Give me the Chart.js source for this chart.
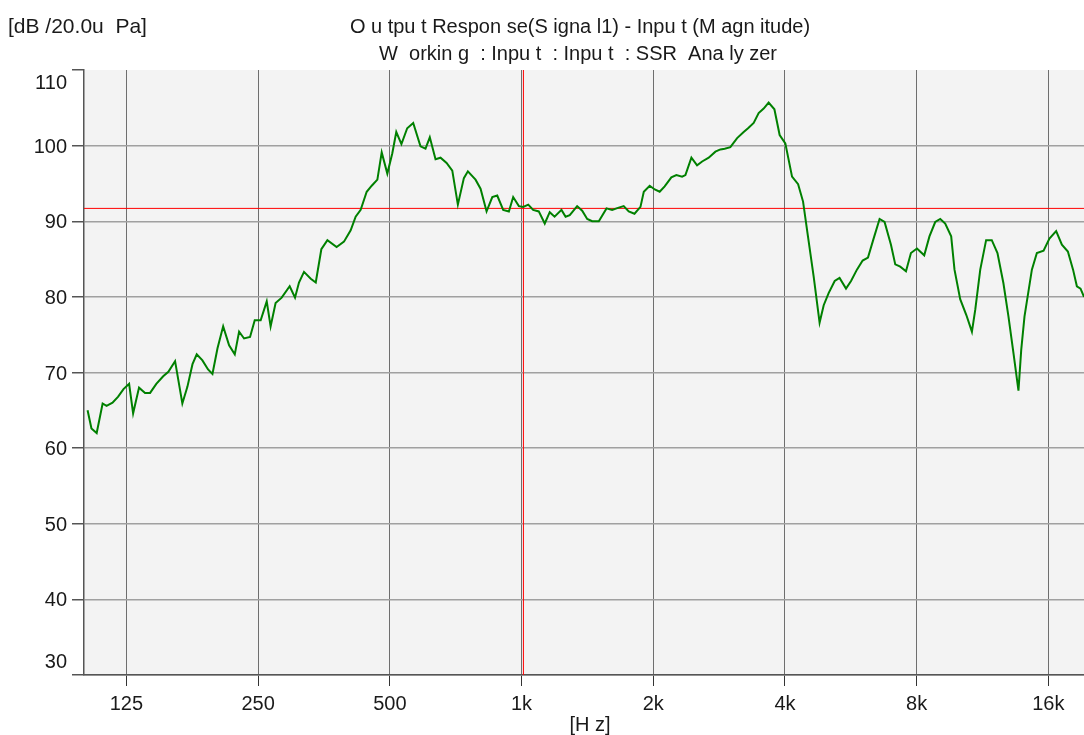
<!DOCTYPE html>
<html>
<head>
<meta charset="utf-8">
<script src="https://cdn.jsdelivr.net/npm/chart.js@4/dist/chart.umd.min.js"></script>
<style>
    html, body { margin: 0; padding: 0; background: #fff; }
</style>
</head>
<body>
<canvas id="chart-response" width="1084" height="735"></canvas>
<script>
var freqHz = [
    101.9, 104.0, 106.9, 110.3, 112.6, 116.2, 119.7, 123.1, 126.8, 129.5,
    133.6, 137.9, 141.6, 146.3, 151.7, 155.9, 161.5, 167.8, 172.3, 177.0,
    181.0, 186.5, 192.1, 196.6, 201.9, 208.0, 214.6, 221.1, 226.2, 232.2,
    239.6, 245.6, 253.4, 261.6, 267.0, 274.1, 283.0, 295.2, 303.6, 310.0,
    318.3, 329.8, 338.6, 348.7, 360.0, 377.9, 392.8,
    406.9, 417.7, 428.9, 442.7, 454.6, 468.3, 479.1, 493.5, 506.6, 517.3,
    531.5, 547.9, 565.5, 587.6, 603.3, 617.1, 636, 652.9, 674.1, 694.6,
    715.3, 738.3, 754, 785, 806, 832, 857.4, 880, 908, 935.6,
    957, 986, 1009, 1036, 1063, 1095, 1130, 1160, 1190, 1234,
    1261, 1289, 1340, 1376, 1413, 1450, 1502, 1564, 1611, 1668,
    1712, 1758, 1812, 1870,
    1903, 1963, 2016, 2069, 2124, 2200, 2259, 2328, 2369, 2445,
    2519, 2587, 2678, 2774, 2848, 2913, 3001, 3110, 3219, 3294,
    3393, 3483, 3576, 3671, 3784, 3890, 4008, 4152, 4287, 4400,
    4515, 4652, 4800, 4905, 5034, 5197, 5332, 5516, 5664, 5842,
    6021, 6192, 6378, 6582, 6757, 6988, 7148, 7338, 7563, 7763,
    8013, 8325, 8557, 8821, 9058, 9297, 9594, 9763, 10060, 10390,
    10700, 10890, 11180, 11530, 11880, 12240, 12630, 12970, 13320, 13670,
    13870, 14110, 14670, 15060, 15600, 16090, 16670, 17180, 17730, 18220,
    18590, 18950, 19300
];
var levelDb = [
    65.0, 62.6, 62.0, 65.9, 65.6, 66.0, 66.8, 67.8, 68.5, 64.6,
    68.0, 67.3, 67.3, 68.5, 69.5, 70.1, 71.5, 65.9, 68.1, 71.1,
    72.4, 71.6, 70.4, 69.8, 73.2, 76.1, 73.6, 72.4, 75.4, 74.5,
    74.7, 76.9, 76.9, 79.4, 76.1, 79.2, 79.9, 81.4, 79.9, 81.9,
    83.3, 82.4, 81.9, 86.3, 87.5, 86.6, 87.3,
    88.8, 90.6, 91.5, 93.9, 94.7, 95.5, 99.1, 96.3, 99.0, 101.8,
    100.2, 102.3, 103.0, 99.9, 99.6, 101.1, 98.2, 98.4, 97.7, 96.7,
    92.2, 95.7, 96.6, 95.5, 94.3, 91.3, 93.2, 93.4, 91.5, 91.3,
    93.2, 92.0, 91.9, 92.2, 91.5, 91.3, 89.7, 91.2, 90.6, 91.5,
    90.6, 90.8, 92.0, 91.4, 90.3, 90.0, 90.0, 91.7, 91.5, 91.8,
    92.0, 91.3, 91.0, 91.9,
    93.9, 94.7, 94.2, 93.9, 94.6, 95.8, 96.1, 95.9, 96.1, 98.4,
    97.4, 97.9, 98.4, 99.2, 99.5, 99.6, 99.8, 101.0, 101.8, 102.3,
    103.0, 104.3, 104.9, 105.7, 104.8, 101.4, 100.3, 95.9, 94.9, 92.6,
    88.0, 82.7, 76.6, 78.9, 80.5, 82.1, 82.5, 81.1, 82.1, 83.6,
    84.8, 85.2, 87.7, 90.3, 89.9, 86.9, 84.3, 84.0, 83.4, 85.8,
    86.4, 85.5, 88.0, 89.9, 90.3, 89.7, 88.0, 83.6, 79.7, 77.6,
    75.4, 78.3, 83.6, 87.5, 87.5, 85.8, 81.8, 77.4, 72.5, 67.6,
    73.0, 77.4, 83.6, 85.8, 86.1, 87.7, 88.7, 86.9, 86.0, 83.6,
    81.4, 81.1, 80.0
];

// Axis ticks
var xTicks = [125, 250, 500, 1000, 2000, 4000, 8000, 16000];
var xTickLabels = ['125', '250', '500', '1k', '2k', '4k', '8k', '16k'];
var yTicks = [30, 40, 50, 60, 70, 80, 90, 100, 110];
var xRange = [100, 19300];
var yRange = [30, 110];

// Cursor lines (red)
var refLevel = 91.7;
var cursorFreq = 1010;

var titleLines = [
    'O u tpu t Respon se(S igna l1) - Inpu t (M agn itude)',
    'W  orkin g  : Inpu t  : Inpu t  : SSR  Ana ly zer'
];
var yUnit = '[dB /20.0u  Pa]';
var xUnit = '[H z]';

var FONT = '"Liberation Sans", Arial, sans-serif';

function hzPoints(xs, ys) {
    return xs.map(function (f, i) { return { x: f, y: ys[i] }; });
}

// Plot background + all the text
var framePlugin = {
    id: 'frame',
    beforeDraw: function (chart) {
        var a = chart.chartArea;
        var ctx = chart.ctx;
        ctx.save();
        ctx.fillStyle = '#f3f3f3';
        ctx.fillRect(a.left, a.top, a.right - a.left, a.bottom - a.top);
        ctx.restore();
    },
    afterDraw: function (chart) {
        var a = chart.chartArea;
        var ctx = chart.ctx;
        var xs = chart.scales.x;
        var ys = chart.scales.y;
        ctx.save();
        ctx.fillStyle = '#1a1a1a';
        ctx.font = '20px ' + FONT;

        // y tick labels (end ones pushed inside like the original)
        ctx.textAlign = 'right';
        yTicks.forEach(function (v) {
            var py = ys.getPixelForValue(v);
            py = Math.min(Math.max(py, a.top + 12), a.bottom - 14);
            ctx.fillText(String(v), 67, py + 7);
        });

        // x tick labels
        ctx.textAlign = 'center';
        xTicks.forEach(function (v, i) {
            ctx.fillText(xTickLabels[i], xs.getPixelForValue(v), 710);
        });
        ctx.fillText(xUnit, 590, 731);

        // title
        ctx.fillText(titleLines[0], 580, 33);
        ctx.fillText(titleLines[1], 578, 60);

        ctx.textAlign = 'left';
        ctx.font = '21px ' + FONT;
        ctx.fillText(yUnit, 8, 33);
        ctx.restore();
    }
};

new Chart(document.getElementById('chart-response'), {
    type: 'line',
    data: {
        datasets: [{
            label: 'Response',
            data: hzPoints(freqHz, levelDb),
            borderColor: '#008000',
            borderWidth: 2,
            pointRadius: 0,
            tension: 0,
            order: 0
        }, {
            label: 'Level cursor',
            data: hzPoints(xRange, [refLevel, refLevel]),
            borderColor: '#ff0000',
            borderWidth: 1,
            pointRadius: 0,
            order: 1
        }, {
            label: 'Frequency cursor',
            data: hzPoints([cursorFreq, cursorFreq], yRange),
            borderColor: '#ff0000',
            borderWidth: 1,
            pointRadius: 0,
            order: 1
        }]
    },
    options: {
        responsive: false,
        animation: false,
        layout: { padding: { left: 72, top: 70, right: 0, bottom: 0 } },
        plugins: {
            legend: { display: false },
            tooltip: { enabled: false },
            title: { display: false }
        },
        scales: {
            x: {
                type: 'logarithmic',
                min: xRange[0],
                max: xRange[1],
                afterBuildTicks: function (scale) {
                    scale.ticks = xTicks.map(function (v) { return { value: v }; });
                },
                afterFit: function (scale) { scale.height = 60; },
                ticks: { display: false },
                grid: {
                    color: '#6e6e6e',
                    lineWidth: 1,
                    drawTicks: true,
                    tickLength: 11,
                    tickColor: '#333'
                },
                border: { color: '#555', width: 1.5 }
            },
            y: {
                min: yRange[0],
                max: yRange[1],
                afterBuildTicks: function (scale) {
                    scale.ticks = yTicks.map(function (v) { return { value: v }; });
                },
                afterFit: function (scale) { scale.width = 12; },
                ticks: { display: false },
                grid: {
                    color: function (c) {
                        return (c.tick && c.tick.value === 110) ? 'rgba(0,0,0,0)' : '#a0a0a0';
                    },
                    lineWidth: 1.5,
                    drawTicks: true,
                    tickLength: 12,
                    tickColor: '#555'
                },
                border: { color: '#555', width: 1.5 }
            }
        }
    },
    plugins: [framePlugin]
});
</script>
</body>
</html>
